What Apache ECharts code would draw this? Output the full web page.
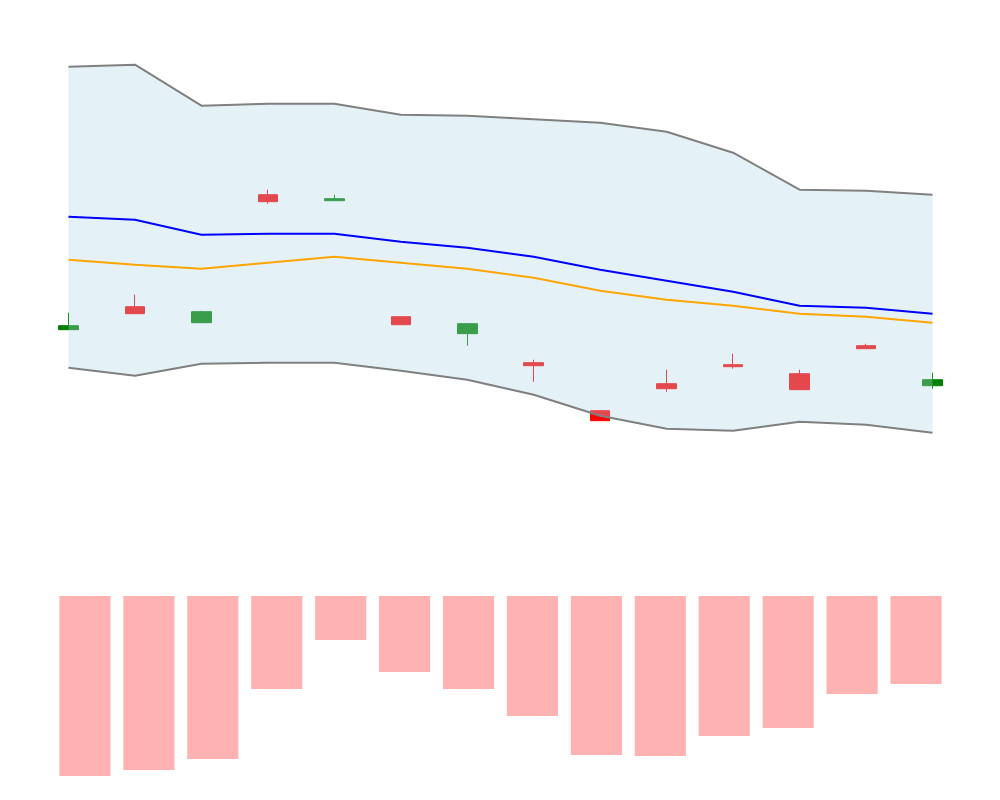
<!DOCTYPE html>
<html>
<head>
<meta charset="utf-8">
<title>Bollinger chart</title>
<script src="https://cdn.jsdelivr.net/npm/echarts@6/dist/echarts.min.js"></script>
<style>
    html, body { margin: 0; padding: 0; background: #fff; }
    #chartMain { width: 1000px; height: 800px; }
</style>
</head>
<body>
<div id="chartMain"></div>
<script>
    // 14 trading periods
    var days = ['1', '2', '3', '4', '5', '6', '7', '8', '9', '10', '11', '12', '13', '14'];

    // candles: [open, close, low, high]
    var candles = [
        [103.1, 103.5, 103.1, 104.8],
        [105.4, 104.7, 104.7, 106.6],
        [103.8, 104.9, 103.8, 105.0],
        [116.6, 115.9, 115.7, 117.1],
        [116.0, 116.2, 116.0, 116.6],
        [104.4, 103.6, 103.6, 104.4],
        [102.7, 103.7, 101.5, 103.7],
        [99.8, 99.5, 97.9, 100.1],
        [95.0, 94.0, 94.0, 95.0],
        [97.7, 97.2, 96.9, 99.1],
        [99.6, 99.4, 99.2, 100.7],
        [98.7, 97.1, 97.1, 99.1],
        [101.5, 101.2, 101.2, 101.7],
        [97.5, 98.1, 97.2, 98.8]
    ];

    // bollinger bands
    var upperBand = [129.4, 129.6, 125.5, 125.7, 125.7, 124.6, 124.5, 124.15, 123.8, 122.9, 120.8, 117.1, 117.0, 116.6];
    var middleBand = [114.4, 114.1, 112.6, 112.7, 112.7, 111.9, 111.3, 110.4, 109.1, 108.0, 106.9, 105.5, 105.3, 104.7];
    var lowerBand = [99.3, 98.5, 99.7, 99.8, 99.8, 99.0, 98.1, 96.6, 94.5, 93.2, 93.0, 93.9, 93.6, 92.8];

    // moving average (orange)
    var maLine = [110.1, 109.6, 109.2, 109.8, 110.4, 109.8, 109.2, 108.3, 107.0, 106.1, 105.5, 104.7, 104.4, 103.8];

    // volume
    var volumes = [1800, 1740, 1630, 930, 440, 760, 930, 1200, 1590, 1600, 1400, 1320, 980, 880];

    // band width stacked on top of the lower band, so the fill sits between the two
    var bandWidth = upperBand.map(function (u, i) {
        return +(u - lowerBand[i]).toFixed(2);
    });

    var chartMain = echarts.init(document.getElementById('chartMain'));
    chartMain.setOption({
        animation: false,
        grid: [
            {left: 68.5, right: 67.5, top: 40.7, height: 420},
            {left: 53, right: 52, top: 596, height: 200}
        ],
        xAxis: [
            {type: 'category', gridIndex: 0, data: days, boundaryGap: false, show: false},
            {type: 'category', gridIndex: 1, data: days, show: false}
        ],
        yAxis: [
            {type: 'value', gridIndex: 0, min: 90, max: 132, show: false, splitLine: {show: false}},
            {type: 'value', gridIndex: 1, min: 0, max: 2000, inverse: true, show: false, splitLine: {show: false}}
        ],
        series: [
            {
                name: 'price',
                type: 'candlestick',
                xAxisIndex: 0,
                yAxisIndex: 0,
                data: candles,
                barWidth: 20,
                clip: false,
                z: 1,
                itemStyle: {
                    color: 'green',
                    color0: 'red',
                    borderColor: 'green',
                    borderColor0: 'red',
                    borderWidth: 1
                }
            },
            {
                name: 'lower',
                type: 'line',
                stack: 'band',
                data: lowerBand,
                symbol: 'none',
                z: 3,
                lineStyle: {color: 'gray', width: 2}
            },
            {
                name: 'upper',
                type: 'line',
                stack: 'band',
                data: bandWidth,
                symbol: 'none',
                z: 3,
                lineStyle: {color: 'gray', width: 2},
                areaStyle: {color: 'lightblue', opacity: 0.33}
            },
            {
                name: 'middle',
                type: 'line',
                data: middleBand,
                symbol: 'none',
                z: 4,
                lineStyle: {color: 'blue', width: 2}
            },
            {
                name: 'ma',
                type: 'line',
                data: maLine,
                symbol: 'none',
                z: 4,
                lineStyle: {color: 'orange', width: 2}
            },
            {
                name: 'volume',
                type: 'bar',
                xAxisIndex: 1,
                yAxisIndex: 1,
                data: volumes,
                barWidth: '80%',
                itemStyle: {color: 'rgba(255, 0, 0, 0.3)'}
            }
        ]
    });
</script>
</body>
</html>
